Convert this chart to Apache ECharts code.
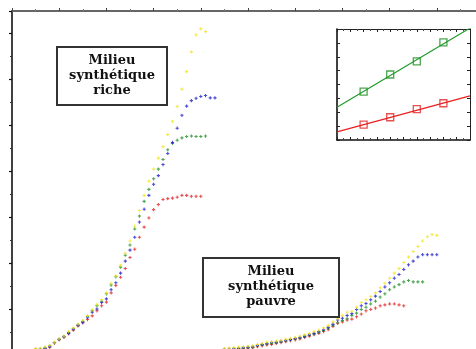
<!DOCTYPE html>
<html>
<head>
<meta charset="utf-8">
<script src="https://cdn.jsdelivr.net/npm/echarts@6/dist/echarts.min.js"></script>
<style>html,body{margin:0;padding:0;background:#fff}#c{width:476px;height:349px}</style>
</head>
<body>
<div id="c"></div>
<script>
// ---- main chart data ----
const xRich = [1.0,1.2,1.4,1.6,1.8,2.0,2.2,2.4,2.6,2.8,3.0,3.2,3.4,3.6,3.8,4.0,4.2,4.4,4.6,4.8,5.0,5.2,5.4,5.6,5.8,6.0,6.2,6.4,6.6,6.8,7.0,7.2,7.4,7.6,7.8,8.0,8.2,8.4,8.6];
const richYellow = [0.14,0.14,0.17,0.21,0.28,0.35,0.41,0.51,0.59,0.67,0.75,0.85,0.98,1.10,1.20,1.35,1.56,1.72,1.95,2.21,2.48,2.80,3.14,3.47,3.78,4.04,4.28,4.53,4.79,5.08,5.40,5.78,6.16,6.59,6.96,7.09,7.03];
const richBlue = [0.12,0.12,0.14,0.18,0.27,0.34,0.40,0.47,0.56,0.65,0.71,0.81,0.93,1.00,1.14,1.22,1.42,1.57,1.78,2.04,2.28,2.56,2.89,3.17,3.47,3.71,3.90,4.14,4.38,4.62,4.93,5.21,5.41,5.53,5.58,5.62,5.64,5.59,5.59];
const richGreen = [0.13,0.14,0.16,0.20,0.27,0.34,0.40,0.49,0.57,0.65,0.73,0.84,0.96,1.07,1.17,1.33,1.52,1.70,1.91,2.17,2.39,2.74,3.02,3.34,3.60,3.83,4.04,4.25,4.46,4.60,4.67,4.72,4.75,4.76,4.75,4.75,4.76];
const richRed = [0.12,0.12,0.14,0.17,0.26,0.33,0.39,0.46,0.54,0.63,0.70,0.77,0.85,0.96,1.07,1.15,1.35,1.51,1.69,1.88,2.12,2.30,2.56,2.78,2.98,3.16,3.27,3.38,3.40,3.41,3.43,3.47,3.47,3.45,3.45,3.45];

const xPoor = [9.0,9.2,9.4,9.6,9.8,10.0,10.2,10.4,10.6,10.8,11.0,11.2,11.4,11.6,11.8,12.0,12.2,12.4,12.6,12.8,13.0,13.2,13.4,13.6,13.8,14.0,14.2,14.4,14.6,14.8,15.0,15.2,15.4,15.6,15.8,16.0,16.2,16.4,16.6,16.8,17.0,17.2,17.4,17.6,17.8,18.0];
const poorYellow = [0.14,0.15,0.16,0.17,0.18,0.19,0.20,0.23,0.25,0.28,0.29,0.30,0.32,0.34,0.36,0.38,0.41,0.44,0.47,0.51,0.54,0.59,0.64,0.72,0.79,0.86,0.93,0.95,1.04,1.14,1.20,1.27,1.35,1.46,1.56,1.67,1.78,1.88,2.01,2.13,2.25,2.36,2.48,2.57,2.62,2.60];
const poorBlue = [0.13,0.13,0.14,0.15,0.16,0.17,0.18,0.21,0.23,0.25,0.27,0.28,0.30,0.32,0.34,0.36,0.38,0.41,0.44,0.47,0.51,0.55,0.60,0.67,0.76,0.80,0.86,0.90,0.99,1.07,1.12,1.20,1.28,1.38,1.48,1.57,1.67,1.75,1.86,1.96,2.04,2.13,2.18,2.18,2.18,2.18];
const poorGreen = [0.12,0.12,0.13,0.14,0.15,0.16,0.17,0.20,0.22,0.24,0.25,0.27,0.29,0.31,0.33,0.35,0.37,0.40,0.43,0.46,0.49,0.53,0.58,0.65,0.70,0.75,0.79,0.86,0.91,0.99,1.04,1.11,1.17,1.26,1.33,1.42,1.48,1.53,1.59,1.62,1.59,1.59,1.59];
const poorRed = [0.11,0.11,0.12,0.13,0.14,0.15,0.16,0.18,0.20,0.22,0.23,0.25,0.27,0.29,0.31,0.33,0.35,0.38,0.41,0.44,0.47,0.51,0.55,0.62,0.69,0.72,0.76,0.78,0.83,0.89,0.96,0.99,1.02,1.07,1.09,1.11,1.11,1.09,1.07];

// ---- inset data ----
const insetX = [1,2,3,4];
const insetGreen = [3.49,4.72,5.66,7.03];
const insetRed = [1.11,1.64,2.22,2.65];
const fitX = [0,5];
const fitGreen = [2.36,8.07];
const fitRed = [0.58,3.18];

const labelRich = 'Milieu\nsynthétique\nriche';
const labelPoor = 'Milieu\nsynthétique\npauvre';

const C = {yellow:'#f2e41c', blue:'#1c1ccc', green:'#1f8f24', red:'#e02424'};
const plus = 'path://M1,0H2V1H3V2H2V3H1V2H0V1H1Z';

function pairs(xs, ys){ return ys.map((v,i)=>[xs[i], v]); }
function sc(name, xs, ys, color){
  return {type:'scatter', name, xAxisIndex:0, yAxisIndex:0, data:pairs(xs,ys),
    symbol:plus, symbolSize:3.2, itemStyle:{color}, silent:true, animation:false};
}

const chart = echarts.init(document.getElementById('c'), null, {renderer:'canvas'});
const option = {
  backgroundColor:'#fff',
  animation:false,
  grid:[
    {left:12, top:11, width:472, height:344, outerBoundsMode:'none', containLabel:false},
    {left:337, top:29, width:133, height:111, outerBoundsMode:'none', containLabel:false}
  ],
  xAxis:[
    {gridIndex:0, type:'value', position:'top', min:0, max:20, interval:2,
      axisLine:{show:true, onZero:false, lineStyle:{color:'#666', width:2}},
      axisTick:{show:true, inside:false, length:3, lineStyle:{color:'#444'}},
      minorTick:{show:true, splitNumber:2, length:2, lineStyle:{color:'#777'}},
      axisLabel:{show:false}, splitLine:{show:false}},
    {gridIndex:1, type:'value', position:'bottom', min:0, max:5, interval:0.5,
      axisLine:{show:true, onZero:false, lineStyle:{color:'#111', width:1.6}},
      axisTick:{show:true, inside:true, length:3, lineStyle:{color:'#222'}},
      minorTick:{show:true, splitNumber:2, length:2, lineStyle:{color:'#444'}},
      axisLabel:{show:false}, splitLine:{show:false}},
    {gridIndex:1, type:'value', position:'top', min:0, max:5, interval:0.5,
      axisLine:{show:true, onZero:false, lineStyle:{color:'#222', width:1}},
      axisTick:{show:true, inside:true, length:3, lineStyle:{color:'#222'}},
      minorTick:{show:true, splitNumber:2, length:2, lineStyle:{color:'#444'}},
      axisLabel:{show:false}, splitLine:{show:false}}
  ],
  yAxis:[
    {gridIndex:0, type:'value', min:0, max:7.478, interval:1,
      axisLine:{show:true, onZero:false, lineStyle:{color:'#000', width:1.5}},
      axisTick:{show:true, inside:false, length:3, lineStyle:{color:'#111', width:1.2}},
      minorTick:{show:true, splitNumber:2, length:2, lineStyle:{color:'#333'}},
      axisLabel:{show:false}, splitLine:{show:false}},
    {gridIndex:1, type:'value', position:'left', min:0, max:8, interval:1,
      axisLine:{show:true, onZero:false, lineStyle:{color:'#111', width:1.6}},
      axisTick:{show:true, inside:true, length:3, lineStyle:{color:'#222'}},
      axisLabel:{show:false}, splitLine:{show:false}},
    {gridIndex:1, type:'value', position:'right', min:0, max:8, interval:1,
      axisLine:{show:true, onZero:false, lineStyle:{color:'#222', width:1}},
      axisTick:{show:true, inside:true, length:3, lineStyle:{color:'#222'}},
      axisLabel:{show:false}, splitLine:{show:false}}
  ],
  series:[
    sc('riche rouge', xRich, richRed, C.red),
    sc('riche vert', xRich, richGreen, C.green),
    sc('riche bleu', xRich, richBlue, C.blue),
    sc('riche jaune', xRich, richYellow, C.yellow),
    sc('pauvre rouge', xPoor, poorRed, C.red),
    sc('pauvre vert', xPoor, poorGreen, C.green),
    sc('pauvre bleu', xPoor, poorBlue, C.blue),
    sc('pauvre jaune', xPoor, poorYellow, C.yellow),
    {type:'line', xAxisIndex:1, yAxisIndex:1, data:pairs(fitX, fitGreen), showSymbol:false, symbol:'none',
      clip:true, lineStyle:{color:'#1f9a2a', width:1.2}, silent:true},
    {type:'line', xAxisIndex:1, yAxisIndex:1, data:pairs(fitX, fitRed), showSymbol:false, symbol:'none',
      clip:true, lineStyle:{color:'#e82020', width:1.2}, silent:true},
    {type:'scatter', xAxisIndex:1, yAxisIndex:1, data:pairs(insetX, insetGreen), symbol:'rect', symbolSize:7,
      itemStyle:{color:'rgba(0,0,0,0)', borderColor:'#1f8f24', borderWidth:1.3}, silent:true},
    {type:'scatter', xAxisIndex:1, yAxisIndex:1, data:pairs(insetX, insetRed), symbol:'rect', symbolSize:7,
      itemStyle:{color:'rgba(0,0,0,0)', borderColor:'#e02424', borderWidth:1.3}, silent:true}
  ],
  graphic:[
    {type:'rect', shape:{x:57, y:47, width:110, height:58}, style:{fill:'#fff', stroke:'#333', lineWidth:2}, z:10},
    {type:'text', x:112, y:76, z:11, style:{text:labelRich, font:'bold 13px "DejaVu Serif"', fill:'#111',
      align:'center', verticalAlign:'middle', lineHeight:15}},
    {type:'rect', shape:{x:203, y:258, width:136, height:59}, style:{fill:'#fff', stroke:'#333', lineWidth:2}, z:10},
    {type:'text', x:271, y:287, z:11, style:{text:labelPoor, font:'bold 13px "DejaVu Serif"', fill:'#111',
      align:'center', verticalAlign:'middle', lineHeight:15}}
  ]
};
chart.setOption(option);
</script>
</body>
</html>
